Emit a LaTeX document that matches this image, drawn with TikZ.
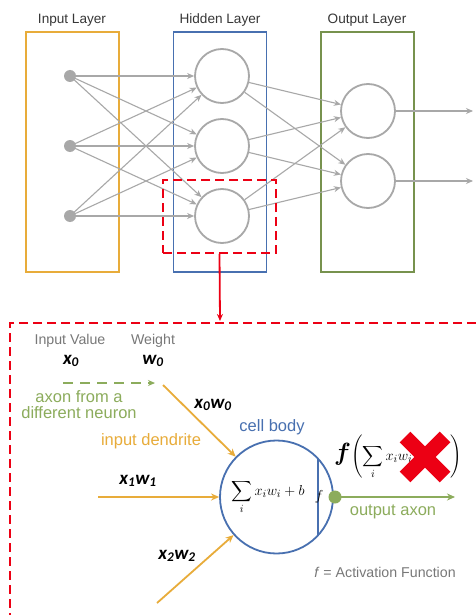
\documentclass[tikz,border=0pt]{standalone}
\usepackage{amsmath}
\usepackage{fontspec}
\setmainfont{Liberation Sans}
\newfontfamily\carl{Carlito}
\usetikzlibrary{arrows.meta}
\definecolor{cgray}{RGB}{168,168,168}
\definecolor{corange}{RGB}{232,172,58}
\definecolor{cblue}{RGB}{72,112,176}
\definecolor{cgreen}{RGB}{140,172,92}
\definecolor{cred}{RGB}{236,0,20}
\definecolor{ctext}{RGB}{55,55,55}
\definecolor{clab}{RGB}{120,120,120}
\newcommand{\vw}[2]{{\carl\bfseries\itshape #1\textsubscript{#2}}}
\tikzset{
  layerbox/.style={draw, line width=1.6pt, minimum width=93pt, minimum height=240pt},
  indot/.style={circle, fill=cgray, inner sep=0pt, minimum size=12pt},
  hid/.style={circle, draw=cgray, line width=1.8pt, inner sep=0pt, minimum size=54pt},
  netarrow/.style={draw=cgray, line width=1.1pt, -{Stealth[length=7pt,width=6pt]}},
  laytitle/.style={text=ctext, font=\fontsize{13.6}{15}\selectfont},
  reddash/.style={draw=cred, line width=1.8pt, dash pattern=on 9pt off 5pt},
  orarrow/.style={draw=corange, line width=1.8pt, -{Stealth[length=8pt,width=7pt]}},
  lab/.style={font=\fontsize{16.5}{18}\selectfont},
  smlab/.style={text=clab, font=\fontsize{14.2}{16}\selectfont},
  mlab/.style={font=\fontsize{19}{21}\selectfont},
}
\begin{document}
\begin{tikzpicture}[x=1pt,y=-1pt]
\useasboundingbox (0,0) rectangle (475,615);
\fill[white] (0,0) rectangle (475,615);
% layer boxes
\node[layerbox, draw=corange] (inbox) at (72.5,152) {};
\node[layerbox, draw=cblue] (hidbox) at (220,152) {};
\node[layerbox, draw=cgreen!85!black] (outbox) at (367.5,152) {};
\node[laytitle] (tin) at (72,20) {Input Layer};
\node[laytitle] (thid) at (220,20) {Hidden Layer};
\node[laytitle] (tout) at (367,20) {Output Layer};
% neurons
\node[indot] (i1) at (70,76) {};
\node[indot] (i2) at (70,146) {};
\node[indot] (i3) at (70,216) {};
\node[hid] (h1) at (222,76) {};
\node[hid] (h2) at (222,146) {};
\node[hid] (h3) at (222,216) {};
\node[hid] (o1) at (368,111) {};
\node[hid] (o2) at (368,181) {};
\coordinate (e1) at (473,111);
\coordinate (e2) at (473,181);
\foreach \a in {i1,i2,i3}{\foreach \b in {h1,h2,h3}{\draw[netarrow] (\a.center) -- (\b);}}
\foreach \a in {h1,h2,h3}{\foreach \b in {o1,o2}{\draw[netarrow] (\a) -- (\b);}}
\draw[netarrow] (o1) -- (e1);
\draw[netarrow] (o2) -- (e2);
% zoom box
\node[reddash, minimum width=113pt, minimum height=73pt] (zoom) at (219.5,216.5) {};
\coordinate (ztarget) at (220,321);
\draw[cred, line width=1.8pt, -{Stealth[length=7pt,width=6pt]}] (zoom.south) -- (ztarget);
\draw[reddash] (476,323) -- (10,323) -- (10,616);
% lower part
\node[smlab] (tiv) at (70,341) {Input Value};
\node[smlab] (tw) at (153,341) {Weight};
\node[mlab] (x0) at (71,361) {\vw{x}{0}};
\node[mlab] (w0) at (153,361) {\vw{w}{0}};
\coordinate (ga) at (63,383);
\coordinate (gb) at (155,383);
\draw[cgreen, line width=1.8pt, dash pattern=on 10pt off 7pt, -{Stealth[length=7pt,width=6pt]}] (ga) -- (gb);
\node[lab, text=cgreen, align=center, inner sep=0pt] (axn) at (79,405) {axon from a\\[-2pt]different neuron};
% cell body
\node[circle, draw=cblue, line width=1.8pt, minimum size=113pt, inner sep=0pt] (cell) at (276.5,497) {};
\draw[cblue, line width=1.8pt] (318,459) -- (318,535);
\node[lab, text=cblue] (tcell) at (272,427) {cell body};
\node (sum) at (268,497) {\fontsize{15.5}{17}\selectfont$\displaystyle\sum_i x_i w_i + b$};
\node (fin) at (319,497) {\fontsize{15}{16}\selectfont$f$};
% inputs
\coordinate (s0) at (163,385);
\coordinate (s1) at (98,497);
\coordinate (s2) at (157,603);
\draw[orarrow] (s0) -- (cell);
\draw[orarrow] (s1) -- (cell);
\draw[orarrow] (s2) -- (cell);
\node[mlab] (x0w0) at (213,405) {\vw{x}{0}\vw{w}{0}};
\node[mlab] (x1w1) at (138,481) {\vw{x}{1}\vw{w}{1}};
\node[mlab] (x2w2) at (177,556) {\vw{x}{2}\vw{w}{2}};
\node[lab, text=corange] (tdend) at (151,441) {input dendrite};
% output
\node[circle, fill=cgreen, inner sep=0pt, minimum size=13pt] (gdot) at (335,497) {};
\coordinate (oend) at (455,497);
\draw[cgreen, line width=1.8pt, -{Stealth[length=8pt,width=7pt]}] (gdot.center) -- (oend);
\node[lab, text=cgreen] (toax) at (393,512) {output axon};
\node[anchor=west, inner sep=0pt] (fout) at (334,457) {\fontsize{15}{18}\selectfont$\displaystyle \text{\fontsize{40}{40}\selectfont$\boldsymbol{f}$}\Biggl(\sum_i x_i w_i + b\quad\Biggr)$};
% red cross
\draw[cred, line width=15pt] (405,437) -- (445,477);
\draw[cred, line width=15pt] (445,437) -- (405,477);
\node[smlab] (tact) at (385,572) {\textit{f} = Activation Function};
\end{tikzpicture}
\end{document}
